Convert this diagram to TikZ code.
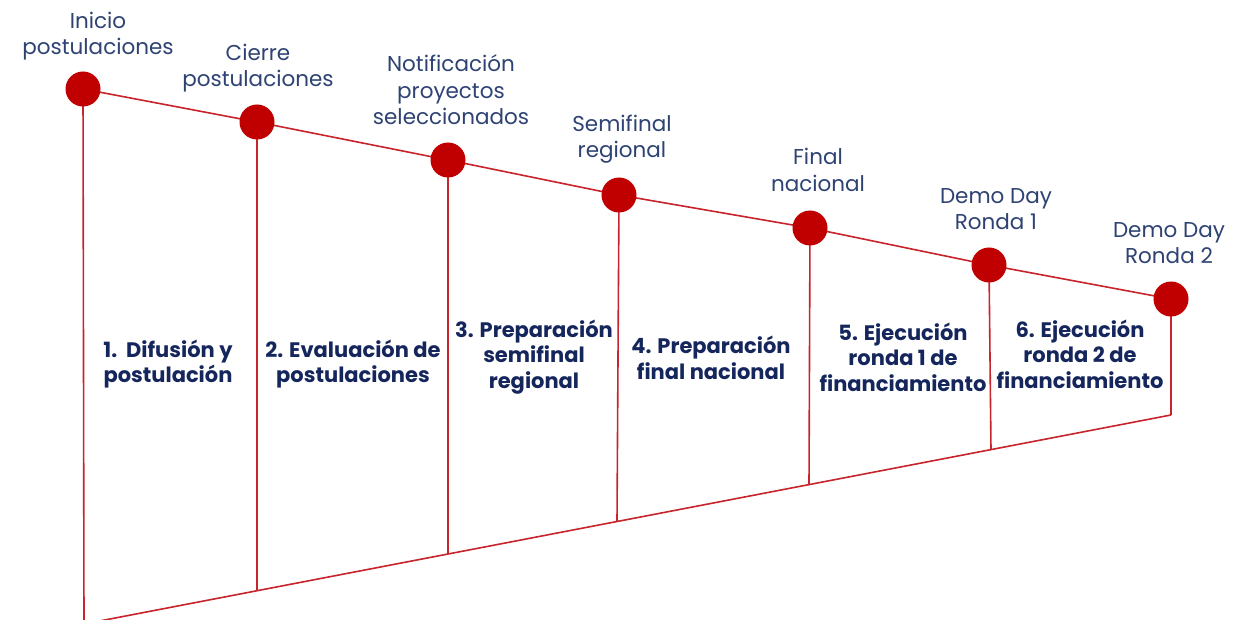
\documentclass[tikz,border=0pt]{standalone}
\usepackage{fontspec}
\setmainfont{Poppins}
\definecolor{dotred}{HTML}{C00000}
\definecolor{linered}{HTML}{C8242C}
\definecolor{toptext}{HTML}{2E4373}
\definecolor{phasetext}{HTML}{15265C}
\begin{document}
\begin{tikzpicture}[x=1pt,y=-1pt,
  dotnode/.style={circle,fill=dotred,draw=none,minimum size=35pt,inner sep=0pt},
  redline/.style={draw=linered,line width=1.6pt},
  milestone/.style={align=center,text=toptext,font=\fontsize{21.5}{26.5}\selectfont,inner sep=0pt},
  phase/.style={align=center,text=phasetext,font=\fontsize{21}{25.5}\selectfont\bfseries,inner sep=0pt}]
\useasboundingbox (0,0) rectangle (1248,620);
\fill[white] (0,0) rectangle (1248,620);
% dot centres
\coordinate (p1) at (83,89);
\coordinate (p2) at (257,122);
\coordinate (p3) at (448,160);
\coordinate (p4) at (619,195);
\coordinate (p5) at (810,228);
\coordinate (p6) at (989,265);
\coordinate (p7) at (1171,299);
% bottom ends
\coordinate (b1) at (84,624);
\coordinate (b2) at (257,591);
\coordinate (b3) at (448,554);
\coordinate (b4) at (617,521);
\coordinate (b5) at (809,485);
\coordinate (b6) at (991,450);
\coordinate (b7) at (1171,415);
% lines
\draw[redline] (p1) -- (p2) -- (p3) -- (p4) -- (p5) -- (p6) -- (p7);
\draw[redline] (b1) -- (b7);
\draw[redline] (p1) -- (b1);
\draw[redline] (p2) -- (b2);
\draw[redline] (p3) -- (b3);
\draw[redline] (p4) -- (b4);
\draw[redline] (p5) -- (b5);
\draw[redline] (p6) -- (b6);
\draw[redline] (p7) -- (b7);
% dots
\node[dotnode] (d1) at (p1) {};
\node[dotnode] (d2) at (p2) {};
\node[dotnode] (d3) at (p3) {};
\node[dotnode] (d4) at (p4) {};
\node[dotnode] (d5) at (p5) {};
\node[dotnode] (d6) at (p6) {};
\node[dotnode] (d7) at (p7) {};
% milestone labels
\node[milestone] (m1) at (98,36) {Inicio\\postulaciones};
\node[milestone] (m2) at (258,68) {Cierre\\postulaciones};
\node[milestone] (m3) at (451,90) {Notificación\\proyectos\\seleccionados};
\node[milestone] (m4) at (622,139) {Semifinal\\regional};
\node[milestone] (m5) at (818,170) {Final\\nacional};
\node[milestone] (m6) at (996,209) {Demo Day\\Ronda 1};
\node[milestone] (m7) at (1169,243) {Demo Day\\Ronda 2};
% phase labels
\node[phase] (f1) at (168,364) {1.~~Difusión y\\postulación};
\node[phase] (f2) at (353,364) {2. Evaluación de\\postulaciones};
\node[phase] (f3) at (534,357) {3. Preparación\\semifinal\\regional};
\node[phase] (f4) at (711,358) {4. Preparación\\final nacional};
\node[phase] (f5) at (903,357) {5. Ejecución\\ronda 1 de\\financiamiento};
\node[phase] (f6) at (1080,354) {6. Ejecución\\ronda 2 de\\financiamiento};
\end{tikzpicture}
\end{document}
